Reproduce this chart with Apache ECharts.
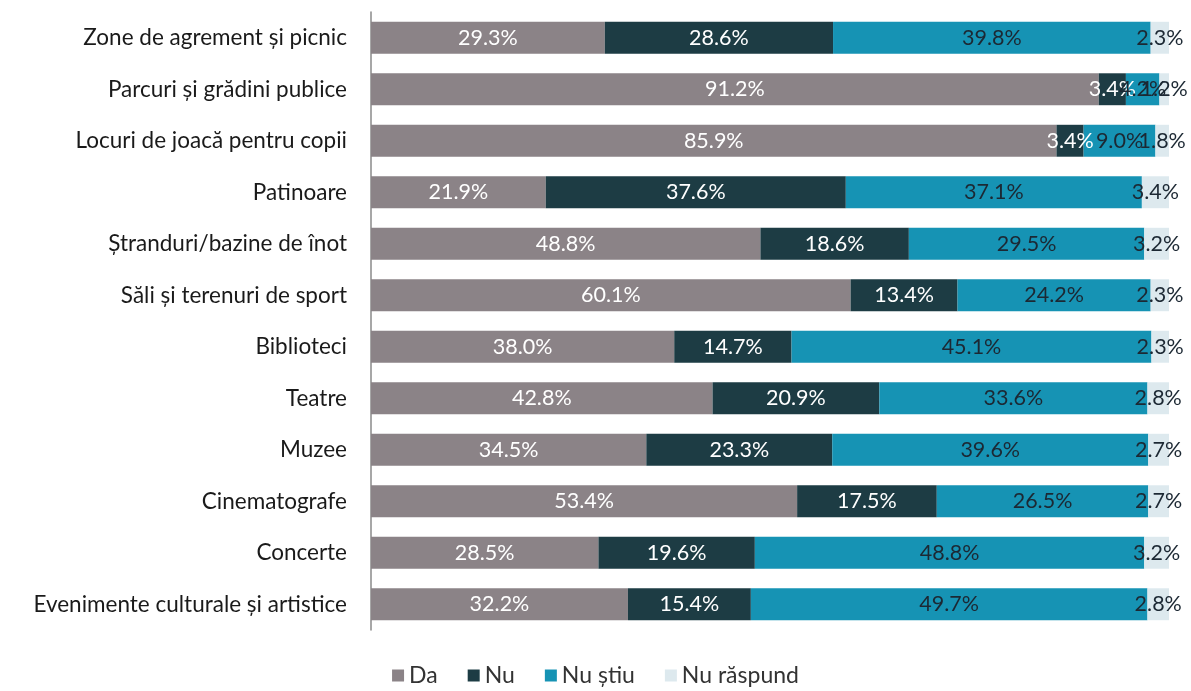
<!DOCTYPE html>
<html><head><meta charset="utf-8">
<script src="https://cdn.jsdelivr.net/npm/echarts@6/dist/echarts.min.js"></script>
<style>html,body{margin:0;padding:0;background:#fff}#c{width:1191px;height:691px}</style>
</head><body><div id="c"></div>
<script>
const categories = ["Zone de agrement și picnic","Parcuri și grădini publice","Locuri de joacă pentru copii","Patinoare","Ștranduri/bazine de înot","Săli și terenuri de sport","Biblioteci","Teatre","Muzee","Cinematografe","Concerte","Evenimente culturale și artistice"];
const seriesNames = ["Da","Nu","Nu știu","Nu răspund"];
const da = [29.3,91.2,85.9,21.9,48.8,60.1,38.0,42.8,34.5,53.4,28.5,32.2];
const nu = [28.6,3.4,3.4,37.6,18.6,13.4,14.7,20.9,23.3,17.5,19.6,15.4];
const nuStiu = [39.8,4.2,9.0,37.1,29.5,24.2,45.1,33.6,39.6,26.5,48.8,49.7];
const nuRaspund = [2.3,1.2,1.8,3.4,3.2,2.3,2.3,2.8,2.7,2.7,3.2,2.8];

const colors = ["#8b8387","#1d3c44","#1693b4","#dde9ee"];
const labelColors = ["#ffffff","#ffffff","#1c2833","#1c2833"];
const values = [da, nu, nuStiu, nuRaspund];
const font = "Lato, sans-serif";

const chart = echarts.init(document.getElementById('c'));
chart.setOption({
  animation:false,
  textStyle:{fontFamily:font},
  grid:{left:371,right:22,top:12,bottom:61},
  xAxis:{type:'value',min:0,max:100,show:false},
  yAxis:{type:'category',data:categories,inverse:true,
    axisLine:{show:true,lineStyle:{color:'#8a8a8a',width:1.5}},
    axisTick:{show:false},
    axisLabel:{color:'#1a1a1a',fontSize:22.5,fontFamily:font,margin:24}},
  legend:{bottom:-1,left:'center',itemWidth:12,itemHeight:12,itemGap:30,icon:'rect',
    textStyle:{fontSize:23,color:'#333',fontFamily:font},data:seriesNames},
  series: seriesNames.map((n,i)=>({
    name:n,type:'bar',stack:'s',barCategoryGap:'38%',
    data:values[i],
    itemStyle:{color:colors[i]},
    label:{show:true,position:'inside',color:labelColors[i],fontSize:21.5,fontFamily:font,
      formatter:p=>p.value.toFixed(1)+'%'}
  }))
});
</script></body></html>
